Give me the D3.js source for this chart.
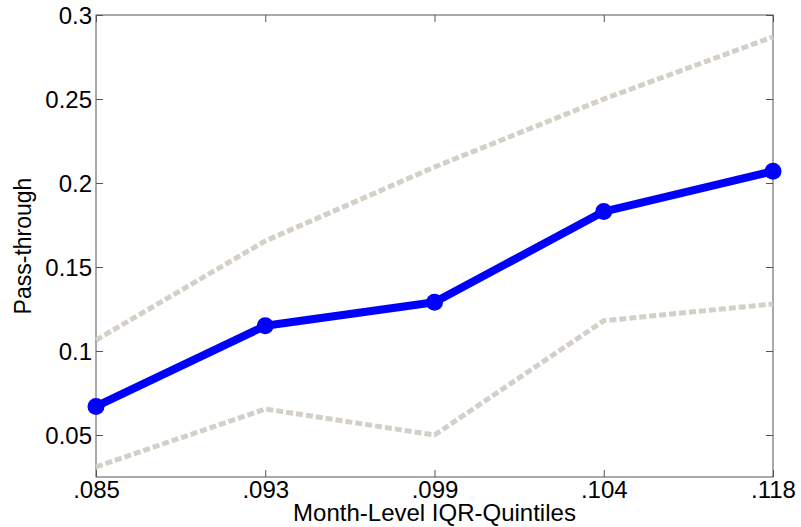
<!DOCTYPE html>
<html lang="en">
<head>
<meta charset="UTF-8">
<title>Pass-through by IQR quintile</title>
<script src="https://d3js.org/d3.v7.min.js"></script>
<style>
  body { margin: 0; background: #fff; }
  text { font-family: "Liberation Sans", Arial, sans-serif; fill: #000; }
</style>
</head>
<body>
<svg id="canvas"></svg>
<script>
let quintiles = [".085", ".093", ".099", ".104", ".118"]
let estimate = [0.067, 0.115, 0.129, 0.183, 0.207]
let upperBand = [0.1065, 0.1655, 0.2095, 0.250, 0.287]
let lowerBand = [0.031, 0.0655, 0.050, 0.118, 0.128]
let yTicks = [0.05, 0.1, 0.15, 0.2, 0.25, 0.3]

let width = 801
let height = 527
let margin = {top: 15, right: 28, bottom: 50, left: 96}

let svg = d3.select("#canvas")
  .attr("width", width)
  .attr("height", height)

let xScale = d3.scalePoint()
  .domain(quintiles)
  .range([margin.left, width - margin.right])

let yScale = d3.scaleLinear()
  .domain([0.025, 0.3])
  .range([height - margin.bottom, margin.top])

let axisColor = "#555"
let tickLen = 7

// frame
svg.append("rect")
  .attr("x", margin.left)
  .attr("y", margin.top)
  .attr("width", width - margin.left - margin.right)
  .attr("height", height - margin.top - margin.bottom)
  .attr("fill", "none")
  .attr("stroke", axisColor)
  .attr("stroke-width", 1)

// axes, ticks point inward (negative inner size), so padding is the label gap
let xAxis = d3.axisBottom(xScale).tickSizeInner(-tickLen).tickSizeOuter(0).tickPadding(4)
let gx = svg.append("g")
  .attr("transform", "translate(0," + (height - margin.bottom) + ")")
  .call(xAxis)

let xTop = d3.axisTop(xScale).tickSizeInner(-tickLen).tickSizeOuter(0).tickFormat("")
let gxt = svg.append("g")
  .attr("transform", "translate(0," + margin.top + ")")
  .call(xTop)

let yAxis = d3.axisLeft(yScale).tickValues(yTicks)
  .tickFormat(d => String(+d.toFixed(2)))
  .tickSizeInner(-tickLen).tickSizeOuter(0).tickPadding(4)
let gy = svg.append("g")
  .attr("transform", "translate(" + margin.left + ",0)")
  .call(yAxis)

let yRight = d3.axisRight(yScale).tickValues(yTicks)
  .tickSizeInner(-tickLen).tickSizeOuter(0).tickFormat("")
let gyr = svg.append("g")
  .attr("transform", "translate(" + (width - margin.right) + ",0)")
  .call(yRight)

for (let g of [gx, gxt, gy, gyr]) {
  g.select(".domain").remove()
  g.selectAll(".tick line").attr("stroke", axisColor)
  g.selectAll(".tick text").style("font-size", "24px").attr("fill", "#000")
}
gy.selectAll(".tick text").attr("dy", "0.36em")

// confidence bands
let line = d3.line()
  .x((d, i) => xScale(quintiles[i]))
  .y(d => yScale(d))

for (let band of [upperBand, lowerBand]) {
  svg.append("path")
    .datum(band)
    .attr("d", line)
    .attr("fill", "none")
    .attr("stroke", "#d4d0c8")
    .attr("stroke-width", 5)
    .attr("stroke-dasharray", "7,3")
}

// point estimates
svg.append("path")
  .datum(estimate)
  .attr("d", line)
  .attr("fill", "none")
  .attr("stroke", "#0000ff")
  .attr("stroke-width", 8)
  .attr("stroke-linejoin", "round")

svg.selectAll("circle.pt")
  .data(estimate)
  .enter()
  .append("circle")
  .attr("class", "pt")
  .attr("cx", (d, i) => xScale(quintiles[i]))
  .attr("cy", d => yScale(d))
  .attr("r", 8.5)
  .attr("fill", "#0000ff")

// axis titles
svg.append("text")
  .attr("x", (margin.left + width - margin.right) / 2)
  .attr("y", 521)
  .attr("text-anchor", "middle")
  .style("font-size", "24px")
  .text("Month-Level IQR-Quintiles")

svg.append("text")
  .attr("transform", "translate(31," + ((margin.top + height - margin.bottom) / 2) + ") rotate(-90)")
  .attr("text-anchor", "middle")
  .style("font-size", "23px")
  .text("Pass-through")
</script>
</body>
</html>
